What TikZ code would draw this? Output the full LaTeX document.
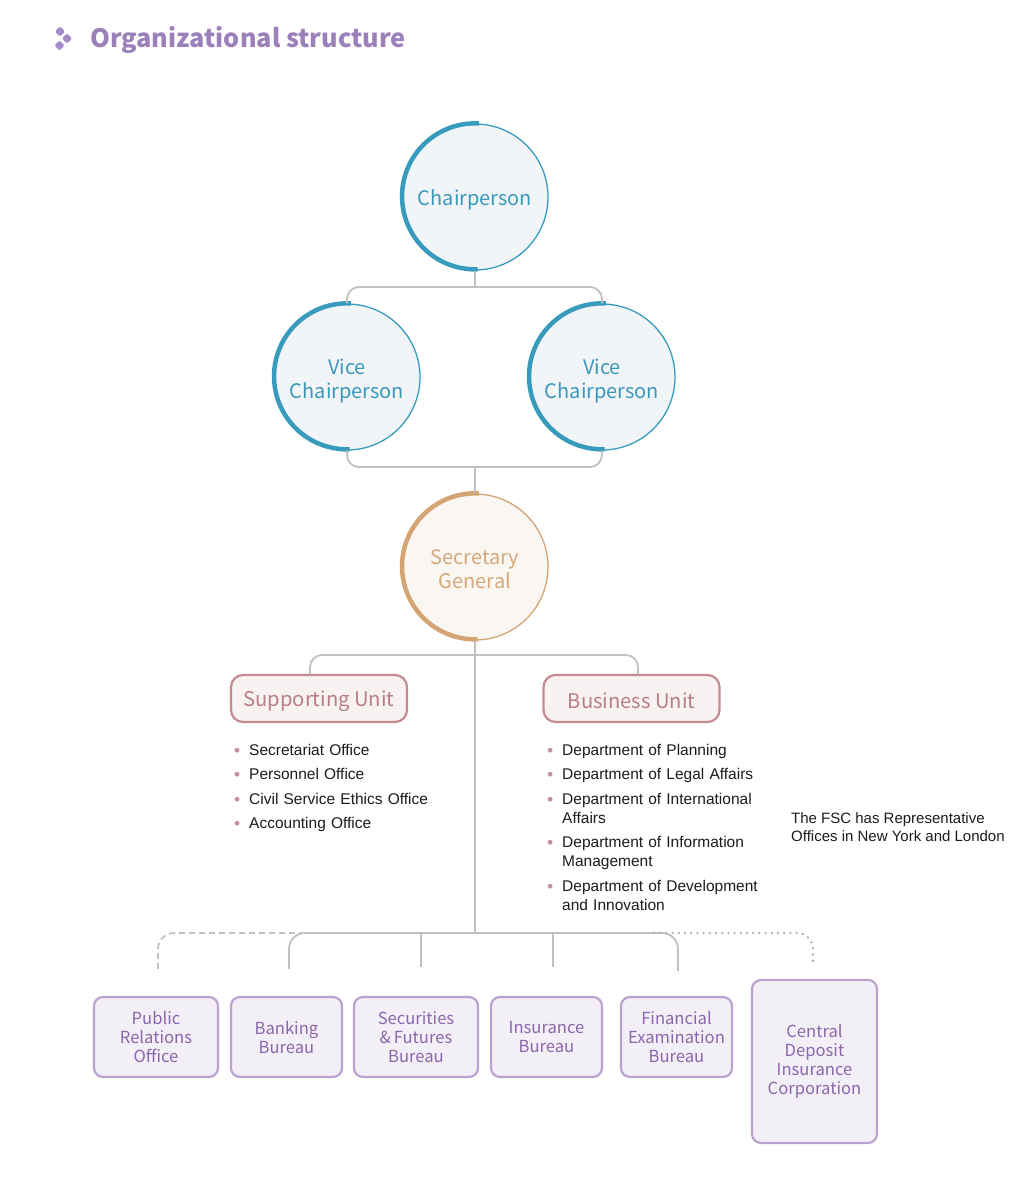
\documentclass[tikz,border=0pt]{standalone}
\usepackage{fontspec}
\usetikzlibrary{positioning,calc}

\newfontfamily\hanfont{Noto Sans CJK TC}
\newfontfamily\listfont{Liberation Sans}

\definecolor{titlecol}{RGB}{155,128,186}
\definecolor{gemcol}{RGB}{164,138,198}
\definecolor{linkgrey}{RGB}{192,192,192}
\definecolor{chairline}{RGB}{56,155,190}
\definecolor{chairfill}{RGB}{241,245,248}
\definecolor{chairtext}{RGB}{60,152,186}
\definecolor{secline}{RGB}{212,164,114}
\definecolor{secfill}{RGB}{250,246,242}
\definecolor{sectext}{RGB}{212,168,122}
\definecolor{roseline}{RGB}{196,140,146}
\definecolor{rosefill}{RGB}{248,242,242}
\definecolor{rosetext}{RGB}{186,126,133}
\definecolor{lavline}{RGB}{187,163,208}
\definecolor{lavfill}{RGB}{243,239,247}
\definecolor{lavtext}{RGB}{140,102,170}
\definecolor{dotcol}{RGB}{196,142,150}
\definecolor{listtext}{RGB}{28,28,28}

\newcommand\dotitem{\makebox[15pt][l]{\raisebox{-0.6pt}{\fontsize{17.5}{19}\selectfont\textcolor{dotcol}{\textbullet}}}}
\newcommand\entry[1]{\hangindent=15pt\hangafter=1\noindent\dotitem#1\par}

\begin{document}
\begin{tikzpicture}[x=1pt,y=1pt]
\tikzstyle{every node}=[font=\hanfont]
\tikzstyle{link}=[draw=linkgrey, line width=1.8pt]
\tikzstyle{gem}=[fill=gemcol, rotate=45, minimum size=7.2pt, inner sep=0pt, rounded corners=1.2pt]
\tikzstyle{lift}=[execute at begin node={\rule{0pt}{#1}}]
\tikzstyle{person}=[circle, minimum size=146pt, inner sep=0pt, line width=1.3pt, align=center, font=\hanfont\fontsize{20}{24}\selectfont, lift=21pt]
\tikzstyle{unit}=[draw=roseline, fill=rosefill, text=rosetext, line width=2.2pt, rounded corners=12pt, minimum width=176pt, minimum height=47pt, font=\hanfont\fontsize{20.2}{24}\selectfont, lift=21pt]
\tikzstyle{bureau}=[draw=lavline, fill=lavfill, text=lavtext, line width=2.2pt, rounded corners=9pt, minimum height=80pt, align=center, font=\hanfont\fontsize{16.6}{19}\selectfont]
\tikzstyle{bullets}=[anchor=north west, inner sep=0pt, text width=250pt, align=left, text=listtext, font=\listfont\fontsize{15.5}{19}\selectfont\setlength{\parskip}{5.5pt}]

\fill[white] (0,0) rectangle (1030,-1200);
\useasboundingbox (0,0) rectangle (1030,-1200);

% heading
\node[gem] (g1) at (60,-31.5) {};
\node[gem] (g2) at (67,-38.5) {};
\node[gem] (g3) at (59.5,-45.5) {};
\node[anchor=base west, inner sep=0pt, text=titlecol, font=\hanfont\bfseries\fontsize{25.3}{30}\selectfont] (title) at (90,-47) {Organizational structure};

% top of the tree
\node[person, draw=chairline, fill=chairfill, text=chairtext] (chair) at (475,-197) {Chairperson};
\node[person, lift=47pt, draw=chairline, fill=chairfill, text=chairtext] (vice1) at (347,-377) {Vice\\Chairperson};
\node[person, lift=47pt, draw=chairline, fill=chairfill, text=chairtext] (vice2) at (602,-377) {Vice\\Chairperson};
\node[person, lift=44pt, draw=secline, fill=secfill, text=sectext] (secgen) at (475,-567) {Secretary\\General};

\draw[chairline, line width=4.5pt] (chair.87) arc[start angle=87, end angle=272, radius=73pt];
\draw[chairline, line width=4.5pt] (vice1.87) arc[start angle=87, end angle=272, radius=73pt];
\draw[chairline, line width=4.5pt] (vice2.87) arc[start angle=87, end angle=272, radius=73pt];
\draw[secline, line width=4.5pt] (secgen.87) arc[start angle=87, end angle=272, radius=73pt];

\coordinate (j1) at (475,-287);
\coordinate (j2) at (475,-467);
\coordinate (j3) at (475,-655);
\coordinate (bus) at (475,-933);

\draw[link] (chair.south) -- (j1);
\draw[link, rounded corners=12pt] (vice1.north) |- (j1) -| (vice2.north);
\draw[link, rounded corners=12pt] (vice1.south) |- (j2) -| (vice2.south);
\draw[link] (j2) -- (secgen.north);

% units
\node[unit] (support) at (319,-698.5) {Supporting Unit};
\node[unit] (business) at (631.5,-698.5) {Business Unit};
\draw[link, rounded corners=12pt] ([xshift=-9pt]support.north) |- (j3) -| ([xshift=6.5pt]business.north);

\node[bullets] (suplist) at (234,-744) {%
\entry{Secretariat Office}
\entry{Personnel Office}
\entry{Civil Service Ethics Office}
\entry{Accounting Office}};
\node[bullets] (buslist) at (547,-744) {%
\entry{Department of Planning}
\entry{Department of Legal Affairs}
\entry{Department of International\newline Affairs}
\entry{Department of Information\newline Management}
\entry{Department of Development\newline and Innovation}};

\node[anchor=west, inner sep=0pt, align=left, text=listtext, font=\listfont\fontsize{15}{18}\selectfont] (fscnote) at (791,-827) {The FSC has Representative\\Offices in New York and London};

% bureaus
\node[bureau, minimum width=124pt] (pr) at (156,-1037) {Public\\Relations\\Office};
\node[bureau, minimum width=111pt] (bank) at (286.5,-1037) {Banking\\Bureau};
\node[bureau, minimum width=124pt] (sf) at (416,-1037) {Securities\\\&\,Futures\\Bureau};
\node[bureau, minimum width=111pt] (ins) at (546.5,-1037) {Insurance\\Bureau};
\node[bureau, minimum width=111pt] (fe) at (676.5,-1037) {Financial\\Examination\\Bureau};
\node[bureau, minimum width=125pt, minimum height=163pt] (cdic) at (814.5,-1061.5) {Central\\Deposit\\Insurance\\Corporation};

\coordinate (pr-top) at ([shift={(2,27)}]pr.north);
\coordinate (bank-top) at ([shift={(2.5,27)}]bank.north);
\coordinate (sf-top) at ([shift={(5,29)}]sf.north);
\coordinate (ins-top) at ([shift={(6.5,29)}]ins.north);
\coordinate (fe-top) at ([shift={(1.5,25)}]fe.north);
\coordinate (cdic-top) at ([shift={(-1.5,15)}]cdic.north);
\coordinate (dot-start) at ($(fe-top |- bus)+(-24,0)$);

\draw[link] (secgen.south) -- (bus);
\draw[link, rounded corners=16pt] (bank-top) |- (bus) -| (fe-top);
\draw[link] (sf-top) -- (sf-top |- bus);
\draw[link] (ins-top) -- (ins-top |- bus);
\draw[link, dash pattern=on 6pt off 4pt, rounded corners=16pt] (pr-top) |- ([xshift=12pt]bank-top |- bus);
\draw[link, draw=linkgrey!90!black, line width=2.6pt, line cap=round, dash pattern=on 0pt off 6.2pt, rounded corners=16pt] (dot-start) -| (cdic-top);

\end{tikzpicture}
\end{document}
